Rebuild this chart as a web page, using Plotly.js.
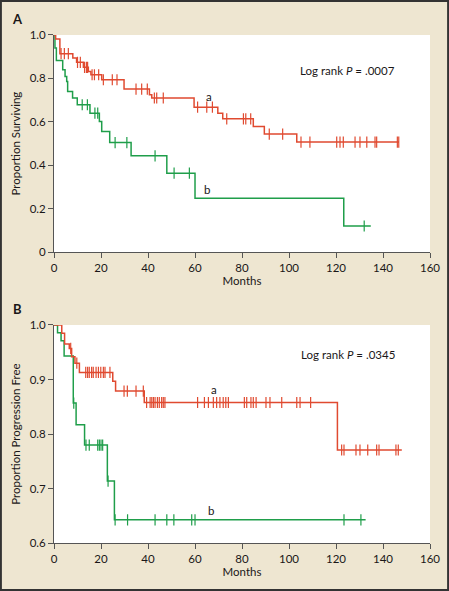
<!DOCTYPE html>
<html><head><meta charset="utf-8">
<script src="https://cdn.plot.ly/plotly-3.0.1.min.js"></script>
<style>html,body{margin:0;padding:0;background:#EEE6D1;}#chart{width:449px;height:591px;}</style>
</head><body><div id="chart"></div>
<script>
// Panel A: overall survival
const aTimesA = [0, 0.7, 2.5, 8.0, 9.6, 12.5, 14.6, 15.7, 20.3, 29.8, 40.6, 41.6, 59.6, 69.7, 71.8, 84.8, 89.5, 103.3];
const aSurvA  = [1.0, 0.981, 0.914, 0.894, 0.874, 0.851, 0.832, 0.817, 0.794, 0.751, 0.725, 0.71, 0.668, 0.64, 0.614, 0.579, 0.544, 0.507];
const aCensA  = [3.0, 4.4, 6.1, 10.0, 11.2, 13.0, 13.8, 14.3, 16.2, 17.2, 19.0, 21.0, 24.8, 26.8, 34.9, 37.3, 39.7, 42.7, 43.7, 46.5, 61.1, 65.0, 67.4, 73.5, 80.6, 81.6, 83.7, 91.6, 97.3, 105.1, 108.9, 120.3, 121.7, 123.1, 128.1, 130.2, 133.1, 136.6, 137.3, 146.1, 146.7];
const aEndA = 146.8;
const bTimesA = [0, 0.4, 1.0, 3.7, 4.7, 5.4, 5.8, 7.9, 9.9, 15.3, 19.3, 20.3, 23.7, 32.8, 48.0, 60.0, 123.3];
const bSurvA  = [1.0, 0.94, 0.883, 0.84, 0.809, 0.786, 0.74, 0.71, 0.679, 0.64, 0.602, 0.556, 0.505, 0.444, 0.364, 0.249, 0.121];
const bCensA  = [12.0, 14.2, 17.4, 18.6, 26.0, 31.0, 43.0, 51.1, 57.6, 132.0];
const bEndA = 134.8;

// Panel B: progression-free survival
const aTimesB = [0, 3.3, 4.5, 6.5, 7.5, 8.9, 10.8, 25.0, 26.2, 38.4, 120.6];
const aSurvB  = [1.0, 0.985, 0.965, 0.957, 0.942, 0.93, 0.913, 0.897, 0.879, 0.858, 0.771];
const aCensB  = [7.1, 9.7, 13.5, 14.3, 15.0, 16.0, 16.7, 17.9, 18.9, 19.9, 21.0, 21.7, 23.8, 29.8, 31.2, 34.9, 38.0, 39.4, 40.9, 41.6, 42.3, 43.0, 44.0, 44.8, 45.8, 46.5, 47.2, 61.1, 64.0, 65.7, 67.8, 69.2, 70.6, 72.0, 73.1, 74.2, 81.0, 82.0, 83.8, 84.8, 86.0, 90.2, 91.9, 96.9, 103.3, 104.7, 109.2, 122.4, 123.4, 128.5, 130.2, 133.5, 137.3, 138.3, 145.5, 146.5];
const aEndB = 148.0;
const bTimesB = [0, 1.5, 3.0, 4.3, 8.2, 9.4, 13.0, 22.7, 25.7];
const bSurvB  = [1.0, 0.986, 0.971, 0.943, 0.857, 0.817, 0.78, 0.714, 0.643];
const bCensB  = [8.4, 13.6, 15.0, 18.6, 19.3, 20.0, 20.7, 23.0, 26.0, 31.3, 43.0, 48.0, 51.0, 58.6, 60.0, 123.4, 130.6];
const bEndB = 132.6;

const xTicks = [0, 20, 40, 60, 80, 100, 120, 140, 160];
const yTicksA = [0, 0.2, 0.4, 0.6, 0.8, 1.0];
const yTickTextA = ["0", "0.2", "0.4", "0.6", "0.8", "1.0"];
const yTicksB = [0.6, 0.7, 0.8, 0.9, 1.0];
const yTickTextB = ["0.6", "0.7", "0.8", "0.9", "1.0"];

const RED = "#E04A30", GREEN = "#1F9E4A";
const FONT = "Lato, 'Open Sans', sans-serif";
const TXT = "#1A1718";

function survAt(times, surv, t){ let v = surv[0]; for(let i=0;i<times.length;i++){ if(times[i] <= t) v = surv[i]; } return v; }
function stepTrace(times, surv, end, color, xa, ya){
  return {x: times.concat([end]), y: surv.concat([surv[surv.length-1]]), mode:'lines', line:{shape:'hv', color:color, width:1.5}, xaxis:xa, yaxis:ya, hoverinfo:'skip'};
}
function censTrace(times, surv, cens, color, xa, ya){
  return {x: cens, y: cens.map(t => survAt(times, surv, t)), mode:'markers', marker:{symbol:'line-ns', size:8, line:{color:color, width:1.2}}, xaxis:xa, yaxis:ya, hoverinfo:'skip'};
}

const data = [
  stepTrace(bTimesA, bSurvA, bEndA, GREEN, 'x', 'y'),
  censTrace(bTimesA, bSurvA, bCensA, GREEN, 'x', 'y'),
  stepTrace(aTimesA, aSurvA, aEndA, RED, 'x', 'y'),
  censTrace(aTimesA, aSurvA, aCensA, RED, 'x', 'y'),
  stepTrace(bTimesB, bSurvB, bEndB, GREEN, 'x2', 'y2'),
  censTrace(bTimesB, bSurvB, bCensB, GREEN, 'x2', 'y2'),
  stepTrace(aTimesB, aSurvB, aEndB, RED, 'x2', 'y2'),
  censTrace(aTimesB, aSurvB, aCensB, RED, 'x2', 'y2')
];

const axisCommon = {showgrid:false, zeroline:false, showline:true, linecolor:'#555', linewidth:1, ticks:'outside', ticklen:5, tickcolor:'#555', tickwidth:1, tickfont:{family:FONT, size:11.5, color:TXT}, fixedrange:true};
const xA = [0.1203, 0.9577];
const titleFont = {family:FONT, size:11.5, color:TXT};
const layout = {
  width:449, height:591, showlegend:false,
  margin:{l:0, r:0, t:0, b:0},
  paper_bgcolor:'#EEE6D1', plot_bgcolor:'#FFFFFF',
  font:{family:FONT, color:TXT},
  xaxis: Object.assign({}, axisCommon, {domain:xA, range:[0,160], tickvals:xTicks, anchor:'y', title:{text:'Months', font:titleFont, standoff:3}}),
  yaxis: Object.assign({}, axisCommon, {domain:[0.5731, 0.9408], range:[0,1.0], tickvals:yTicksA, ticktext:yTickTextA, anchor:'x', title:{text:'Proportion Surviving', font:titleFont, standoff:6}}),
  xaxis2: Object.assign({}, axisCommon, {domain:xA, range:[0,160], tickvals:xTicks, anchor:'y2', title:{text:'Months', font:titleFont, standoff:3}}),
  yaxis2: Object.assign({}, axisCommon, {domain:[0.0807, 0.4501], range:[0.6,1.0], tickvals:yTicksB, ticktext:yTickTextB, anchor:'x2', title:{text:'Proportion Progression Free', font:titleFont, standoff:6}}),
  annotations:[
    {xref:'paper', yref:'paper', x:0.04, y:1-19/591, text:'<b>A</b>', showarrow:false, font:{family:FONT, size:13, color:TXT}, xanchor:'center', yanchor:'middle'},
    {xref:'paper', yref:'paper', x:0.04, y:1-309/591, text:'<b>B</b>', showarrow:false, font:{family:FONT, size:13, color:TXT}, xanchor:'center', yanchor:'middle'},
    {xref:'x', yref:'y', x:66, y:0.717, text:'a', showarrow:false, font:{family:FONT, size:11.5, color:TXT}},
    {xref:'x', yref:'y', x:65, y:0.287, text:'b', showarrow:false, font:{family:FONT, size:11.5, color:TXT}},
    {xref:'x', yref:'y', x:125, y:0.835, text:'Log rank <i>P</i> = .0007', showarrow:false, font:{family:FONT, size:11.5, color:TXT}},
    {xref:'x2', yref:'y2', x:68, y:0.882, text:'a', showarrow:false, font:{family:FONT, size:11.5, color:TXT}},
    {xref:'x2', yref:'y2', x:66.7, y:0.661, text:'b', showarrow:false, font:{family:FONT, size:11.5, color:TXT}},
    {xref:'x2', yref:'y2', x:125, y:0.946, text:'Log rank <i>P</i> = .0345', showarrow:false, font:{family:FONT, size:11.5, color:TXT}}
  ],
  shapes:[
    {type:'rect', xref:'paper', yref:'paper', x0:0.002, x1:0.998, y0:0.0017, y1:0.9983, line:{color:'#333', width:2}}
  ]
};
Plotly.newPlot('chart', data, layout, {displayModeBar:false, staticPlot:true});
</script></body></html>
